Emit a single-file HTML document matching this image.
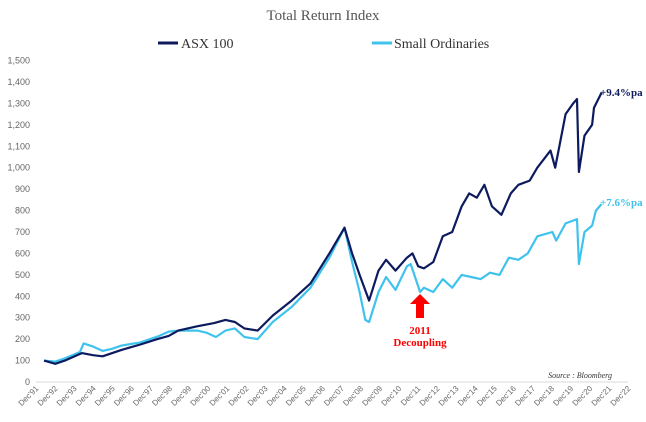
<!DOCTYPE html>
<html><head><meta charset="utf-8"><style>
body{margin:0;background:#fff;width:646px;height:422px;overflow:hidden}
svg{display:block}
text{font-family:"Liberation Serif",serif}
</style></head><body>
<svg id="c" width="646" height="422">
<text x="323" y="20" text-anchor="middle" font-size="15" fill="#555">Total Return Index</text>
<g>
<line x1="158" y1="43" x2="178" y2="43" stroke="#0d1b5e" stroke-width="3"/>
<text x="181" y="48" font-size="14" fill="#333">ASX 100</text>
<line x1="372" y1="43" x2="392" y2="43" stroke="#3fc3ee" stroke-width="3"/>
<text x="394" y="48" font-size="14" fill="#333">Small Ordinaries</text>
</g>
<line x1="36" y1="382" x2="628" y2="382" stroke="#d9d9d9"/>
<g id="yt"></g>
<g id="xt"></g>
<g id="series"></g>
<text x="600" y="96" font-size="11" font-weight="bold" fill="#0d1b5e">+9.4%pa</text>
<text x="600" y="206" font-size="11" font-weight="bold" fill="#3fc3ee">+7.6%pa</text>
<polygon points="416,318 424,318 424,304 430,304 420,294 410,304 416,304" fill="#ff0000"/>
<text x="420" y="334" text-anchor="middle" font-size="11" font-weight="bold" fill="#ff0000">2011</text>
<text x="420" y="346" text-anchor="middle" font-size="11" font-weight="bold" fill="#ff0000">Decoupling</text>
<text x="612" y="378" text-anchor="end" font-size="8" font-style="italic" fill="#333">Source : Bloomberg</text>
</svg>
<script>
const yTicks=[0,100,200,300,400,500,600,700,800,900,1000,1100,1200,1300,1400,1500];
const xLabels=["Dec'91","Dec'92","Dec'93","Dec'94","Dec'95","Dec'96","Dec'97","Dec'98","Dec'99","Dec'00","Dec'01","Dec'02","Dec'03","Dec'04","Dec'05","Dec'06","Dec'07","Dec'08","Dec'09","Dec'10","Dec'11","Dec'12","Dec'13","Dec'14","Dec'15","Dec'16","Dec'17","Dec'18","Dec'19","Dec'20","Dec'21","Dec'22"];
const asxDates=[1991.9,1992.5,1993,1993.9,1994.5,1995,1996,1997,1997.9,1998.5,1999,2000,2000.9,2001.5,2002,2002.5,2003.2,2004,2005,2006,2007,2007.8,2008.2,2008.6,2009.1,2009.6,2010,2010.5,2011.1,2011.4,2011.7,2012,2012.5,2013,2013.5,2014,2014.4,2014.8,2015.2,2015.6,2016.1,2016.6,2017,2017.6,2018,2018.7,2018.95,2019.5,2019.9,2020.1,2020.2,2020.5,2020.9,2021,2021.4];
const asxValues=[100,85,100,135,125,120,150,175,200,215,240,260,275,290,280,250,240,310,380,460,600,720,600,500,380,520,570,520,580,600,540,530,560,680,700,820,880,860,920,820,780,880,920,940,1000,1080,1000,1250,1300,1320,980,1150,1200,1280,1350];
const soDates=[1991.9,1992.5,1993,1993.8,1994,1994.5,1995,1995.5,1996,1997,1998,1998.5,1999,2000,2000.5,2001,2001.5,2002,2002.5,2003.2,2004,2005,2006,2007,2007.8,2008.2,2008.6,2008.9,2009.1,2009.6,2010,2010.5,2011.1,2011.3,2011.8,2012,2012.5,2013,2013.5,2014,2014.5,2015,2015.5,2016,2016.5,2017,2017.5,2018,2018.8,2019,2019.5,2020.1,2020.2,2020.5,2020.9,2021.1,2021.4];
const soValues=[100,95,110,140,180,165,145,155,170,185,215,235,240,240,230,210,240,250,210,200,280,350,440,580,720,560,420,290,280,420,490,430,540,550,420,440,420,480,440,500,490,480,510,500,580,570,600,680,700,660,740,760,550,700,730,800,830];
const NS="http://www.w3.org/2000/svg";
const y=v=>382-v*0.2143;
const x=t=>44+(t-1991.9)*18.9;
const yt=document.getElementById('yt'),xt=document.getElementById('xt'),sg=document.getElementById('series');
yTicks.forEach(v=>{const t=document.createElementNS(NS,'text');


t.setAttribute('x',30);t.setAttribute('y',y(v)+3);t.setAttribute('text-anchor','end');t.setAttribute('font-size','9');t.setAttribute('fill','#666');t.setAttribute('style','font-family:"Liberation Sans",sans-serif');t.textContent=v.toLocaleString('en-US');yt.appendChild(t);});
xLabels.forEach((l,i)=>{const px=36+i*19.1;const t=document.createElementNS(NS,'text');


t.setAttribute('transform',`translate(${px+3},${389}) rotate(-45)`);t.setAttribute('text-anchor','end');t.setAttribute('font-size','8');t.setAttribute('fill','#666');t.setAttribute('style','font-family:"Liberation Sans",sans-serif');t.textContent=l;xt.appendChild(t);});
function line(d,v,c,name){const p=document.createElementNS(NS,'polyline');


p.setAttribute('points',d.map((t,i)=>x(t).toFixed(1)+','+y(v[i]).toFixed(1)).join(' '));p.setAttribute('fill','none');p.setAttribute('stroke',c);p.setAttribute('stroke-width','2.2');p.setAttribute('stroke-linejoin','round');sg.appendChild(p);}
line(soDates,soValues,'#3fc3ee','small-ordinaries-line');
line(asxDates,asxValues,'#0d1b5e','asx100-line');
</script>
</body></html>
